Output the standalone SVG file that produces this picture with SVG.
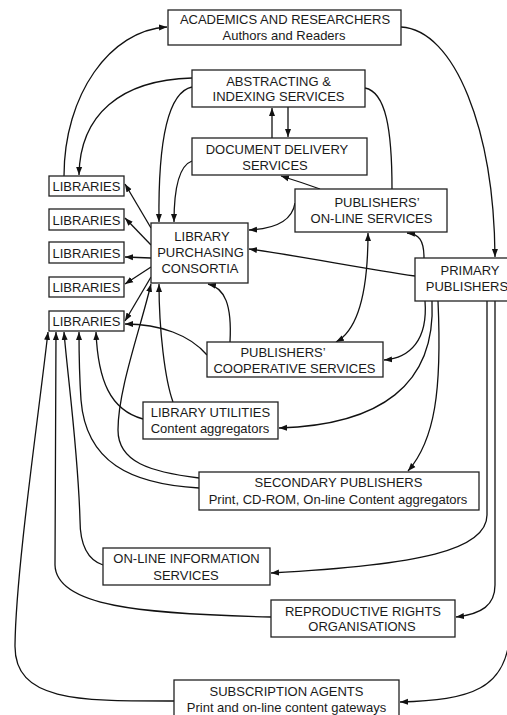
<svg xmlns="http://www.w3.org/2000/svg" width="507" height="715" viewBox="0 0 507 715">
<style>
.box{fill:#fff;stroke:#222;stroke-width:1.3}
.t{font-family:"Liberation Sans",Arial,sans-serif;font-size:13px;fill:#1a1a1a;text-anchor:middle}
.c{fill:none;stroke:#111;stroke-width:1.3}
.a{marker-end:url(#ah)}
.b{marker-start:url(#ahs);marker-end:url(#ah)}
</style>
<defs>
<marker id="ah" markerUnits="userSpaceOnUse" markerWidth="9" markerHeight="7" refX="8" refY="3.5" orient="auto"><path d="M0,0.5 L8,3.5 L0,6.5 z" fill="#111"/></marker>
<marker id="ahs" markerUnits="userSpaceOnUse" markerWidth="9" markerHeight="7" refX="8" refY="3.5" orient="auto-start-reverse"><path d="M0,0.5 L8,3.5 L0,6.5 z" fill="#111"/></marker>
</defs>
<rect width="507" height="715" fill="#fff"/>
<g id="connectors">
<path class="c a" d="M64,176 C64,95 110,30 167,27"/>
<path class="c a" d="M401,27 C455,30 494,130 495,257"/>
<path class="c a" d="M192,78 C120,80 80,115 79,175"/>
<path class="c a" d="M192,87 C168,92 158,140 159,222"/>
<path class="c a" d="M192,161 C178,166 174,190 174,222"/>
<path class="c a" d="M272,138 L272,108"/>
<path class="c a" d="M288,107 L288,137"/>
<path class="c" d="M365,88 C386,92 392,130 392,189"/>
<path class="c a" d="M320,189 C306,184 294,180 281,176"/>
<path class="c a" d="M295,203 C292,222 272,229 249,230"/>
<path class="c a" d="M415,276 C360,268 300,256 249,249"/>
<path class="c a" d="M424,258 C424,240 419,234 407,233"/>
<path class="c b" d="M368,233 C368,290 358,330 336,342"/>
<path class="c a" d="M425,301 C428,340 410,358 384,360"/>
<path class="c a" d="M432,301 C436,385 380,425 279,428"/>
<path class="c a" d="M438,301 C442,390 435,440 408,471"/>
<path class="c a" d="M487,301 L487,515 C487,550 420,565 271,573"/>
<path class="c a" d="M495,301 L495,585 C495,605 482,614 456,617"/>
<path class="c a" d="M510,630 C508,690 470,700 400,702"/>
<path class="c a" d="M174,701 C80,701 14,702 15,645 C16,570 38,420 48,332"/>
<path class="c a" d="M271,617 C140,614 56,606 55,565 L56,332"/>
<path class="c a" d="M103,565 C88,560 80,545 80,520 C78,450 68,380 64,332"/>
<path class="c a" d="M199,488 C130,484 86,462 81,400 C79,370 79,350 79,332"/>
<path class="c a" d="M143,419 C110,410 98,380 96,332"/>
<path class="c a" d="M199,478 C150,472 118,462 118,430 C118,390 140,330 151,284"/>
<path class="c a" d="M173,402 C165,380 159,330 159,284"/>
<path class="c a" d="M230,342 C232,305 225,288 208,284"/>
<path class="c a" d="M207,355 C190,335 160,324 125,324"/>
<path class="c a" d="M151,228 L125,184"/>
<path class="c a" d="M151,245 L125,218"/>
<path class="c a" d="M151,258 L125,257"/>
<path class="c a" d="M151,267 L125,284"/>
<path class="c a" d="M151,277 L125,321"/>
</g>
<g id="academics"><rect class="box" x="168" y="10" width="233" height="35"/><text class="t" x="285" y="24">ACADEMICS AND RESEARCHERS</text><text class="t" x="284" y="40">Authors and Readers</text></g>
<g id="abstracting"><rect class="box" x="192" y="70" width="173" height="37"/><text class="t" x="278.5" y="86">ABSTRACTING &amp;</text><text class="t" x="278.5" y="101">INDEXING SERVICES</text></g>
<g id="docdelivery"><rect class="box" x="192" y="138" width="175" height="37"/><text class="t" x="277" y="154">DOCUMENT DELIVERY</text><text class="t" x="275" y="170">SERVICES</text></g>
<g id="lib1"><rect class="box" x="49" y="176" width="75" height="20"/><text class="t" x="86.5" y="191">LIBRARIES</text></g>
<g id="lib2"><rect class="box" x="49" y="209" width="75" height="21"/><text class="t" x="86.5" y="225">LIBRARIES</text></g>
<g id="lib3"><rect class="box" x="49" y="242" width="75" height="21"/><text class="t" x="86.5" y="258">LIBRARIES</text></g>
<g id="lib4"><rect class="box" x="49" y="277" width="75" height="20"/><text class="t" x="86.5" y="292">LIBRARIES</text></g>
<g id="lib5"><rect class="box" x="49" y="311" width="75" height="20"/><text class="t" x="86.5" y="326">LIBRARIES</text></g>
<g id="lpc"><rect class="box" x="151" y="223" width="97" height="60"/><text class="t" x="202" y="241">LIBRARY</text><text class="t" x="200.5" y="257">PURCHASING</text><text class="t" x="200" y="273">CONSORTIA</text></g>
<g id="pos"><rect class="box" x="295" y="189" width="152" height="43"/><text class="t" x="377" y="207">PUBLISHERS’</text><text class="t" x="371.5" y="223">ON-LINE SERVICES</text></g>
<g id="primary"><rect class="box" x="415" y="258" width="97" height="43"/><text class="t" x="470" y="275">PRIMARY</text><text class="t" x="467" y="291">PUBLISHERS</text></g>
<g id="coop"><rect class="box" x="207" y="342" width="176" height="35"/><text class="t" x="283" y="357">PUBLISHERS’</text><text class="t" x="294.5" y="373">COOPERATIVE SERVICES</text></g>
<g id="utilities"><rect class="box" x="143" y="402" width="135" height="37"/><text class="t" x="210.5" y="417">LIBRARY UTILITIES</text><text class="t" x="210" y="433">Content aggregators</text></g>
<g id="secondary"><rect class="box" x="199" y="472" width="280" height="38"/><text class="t" x="338.5" y="487">SECONDARY PUBLISHERS</text><text class="t" x="338" y="504">Print, CD-ROM, On-line Content aggregators</text></g>
<g id="olis"><rect class="box" x="103" y="548" width="167" height="37"/><text class="t" x="186.5" y="563">ON-LINE INFORMATION</text><text class="t" x="186" y="580">SERVICES</text></g>
<g id="rro"><rect class="box" x="271" y="600" width="184" height="37"/><text class="t" x="363" y="616">REPRODUCTIVE RIGHTS</text><text class="t" x="362" y="631">ORGANISATIONS</text></g>
<g id="agents"><rect class="box" x="174" y="680" width="225" height="36"/><text class="t" x="286.5" y="696">SUBSCRIPTION AGENTS</text><text class="t" x="286.5" y="712">Print and on-line content gateways</text></g>
</svg>
